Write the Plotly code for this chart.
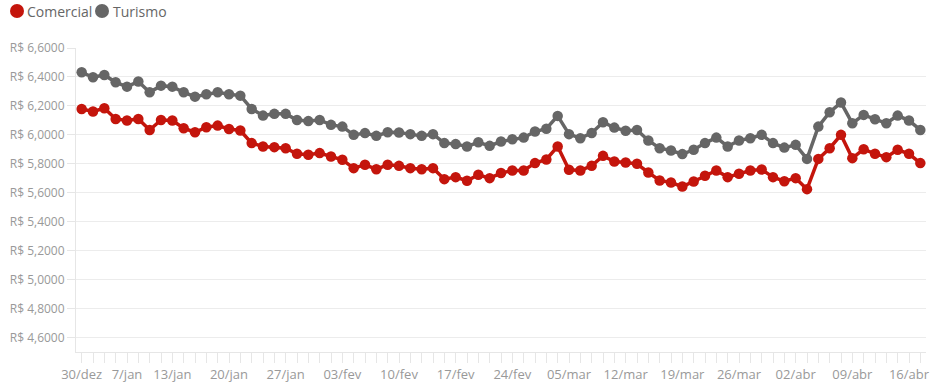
import plotly.graph_objects as go

tick_positions = [0, 4, 8, 13, 18, 23, 28, 33, 38, 43, 48, 53, 58, 63, 68, 73]
tick_labels = ["30/dez", "7/jan", "13/jan", "20/jan", "27/jan", "03/fev", "10/fev", "17/fev",
               "24/fev", "05/mar", "12/mar", "19/mar", "26/mar", "02/abr", "09/abr", "16/abr"]

turismo = [6.432, 6.398, 6.414, 6.363, 6.333, 6.368, 6.294, 6.340, 6.333, 6.294,
           6.264, 6.280, 6.294, 6.280, 6.271, 6.179, 6.133, 6.145, 6.145, 6.103,
           6.095, 6.103, 6.069, 6.057, 6.000, 6.012, 5.993, 6.018, 6.016, 6.005,
           5.993, 6.005, 5.943, 5.936, 5.920, 5.949, 5.924, 5.954, 5.970, 5.981,
           6.023, 6.042, 6.131, 6.005, 5.977, 6.012, 6.087, 6.050, 6.028, 6.034,
           5.961, 5.908, 5.892, 5.867, 5.897, 5.943, 5.981, 5.920, 5.961, 5.977,
           6.000, 5.943, 5.912, 5.931, 5.834, 6.057, 6.156, 6.223, 6.080, 6.138,
           6.108, 6.080, 6.133, 6.099, 6.034]

comercial = [6.179, 6.161, 6.184, 6.110, 6.099, 6.110, 6.034, 6.103, 6.099, 6.046,
             6.018, 6.053, 6.064, 6.041, 6.030, 5.943, 5.920, 5.915, 5.908, 5.869,
             5.862, 5.874, 5.851, 5.828, 5.770, 5.793, 5.763, 5.793, 5.786, 5.770,
             5.763, 5.770, 5.694, 5.708, 5.683, 5.724, 5.701, 5.736, 5.754, 5.754,
             5.805, 5.830, 5.920, 5.759, 5.754, 5.786, 5.855, 5.816, 5.809, 5.800,
             5.740, 5.685, 5.671, 5.643, 5.678, 5.717, 5.754, 5.708, 5.731, 5.754,
             5.761, 5.708, 5.680, 5.701, 5.625, 5.834, 5.908, 6.000, 5.839, 5.901,
             5.869, 5.846, 5.897, 5.869, 5.805]

x = list(range(len(comercial)))

RED = "#c4150c"
GRAY = "#666666"
FONT = "Open Sans"

fig = go.Figure()
fig.add_trace(go.Scatter(x=x, y=turismo, name="Turismo", mode="lines+markers",
                         line=dict(color=GRAY, width=3.5), marker=dict(size=10.5, color=GRAY),
                         showlegend=False))
fig.add_trace(go.Scatter(x=x, y=comercial, name="Comercial", mode="lines+markers",
                         line=dict(color=RED, width=3.5), marker=dict(size=10.5, color=RED),
                         showlegend=False))

# manual legend (dots + text)
L, R, T, B = 76, 26, 48, 35
W, H = 952 - L - R, 387 - T - B

def px(xp):
    return (xp - L) / W

def py(yp):
    return (387 - B - yp) / H

for cx, color, label, tx in [(17, RED, "Comercial", 25), (102, GRAY, "Turismo", 111)]:
    fig.add_shape(type="circle", xref="paper", yref="paper", xsizemode="pixel", ysizemode="pixel",
                  xanchor=px(cx), yanchor=py(11), x0=-7, x1=7, y0=-7, y1=7,
                  fillcolor=color, line=dict(width=0))
    fig.add_annotation(x=px(tx), y=py(11), xref="paper", yref="paper", text=label,
                       showarrow=False, xanchor="left", yanchor="middle",
                       font=dict(family=FONT, size=14, color="#666666"))

fig.update_layout(
    width=952, height=387,
    margin=dict(l=L, r=R, t=T, b=B),
    paper_bgcolor="white", plot_bgcolor="white",
    separators=",.",
    font=dict(family=FONT, color="#999999"),
    xaxis=dict(range=[-0.5, len(x) - 0.5], tickmode="array", tickvals=tick_positions,
               ticktext=tick_labels, ticks="outside", ticklen=10, tickcolor="#e6e6e6",
               showline=True, linecolor="#e6e6e6", linewidth=1, showgrid=False, zeroline=False,
               automargin=False,
               tickfont=dict(family=FONT, size=13, color="#999999"),
               minor=dict(tickmode="linear", tick0=0, dtick=1, ticks="outside", ticklen=10,
                          tickcolor="#e6e6e6", showgrid=False)),
    yaxis=dict(range=[4.5, 6.6], tickmode="linear", tick0=4.6, dtick=0.2,
               tickprefix="R$ ", tickformat=".4f", ticks="outside", ticklen=8,
               tickcolor="#e6e6e6", showline=True, linecolor="#e6e6e6", linewidth=1,
               gridcolor="#ececec", zeroline=False, automargin=False,
               tickfont=dict(family=FONT, size=12, color="#999999")),
)

fig.write_html("out.html", config={"displayModeBar": False},
               post_script="document.body.style.margin='0px';document.body.style.overflow='hidden';")
